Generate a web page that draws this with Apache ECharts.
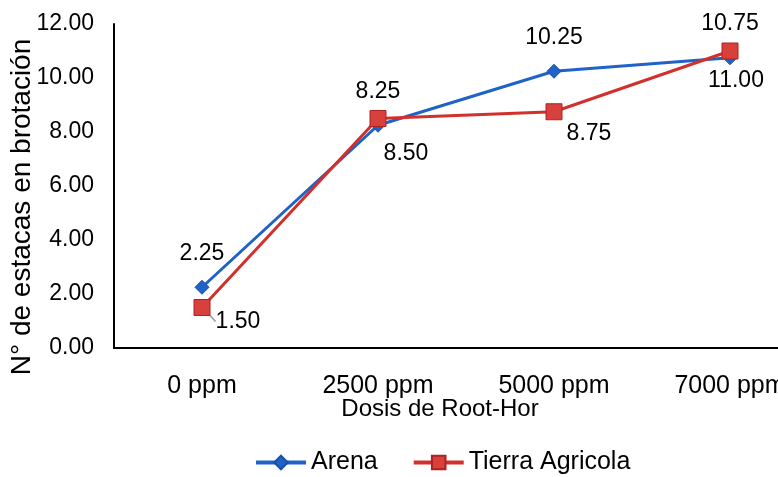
<!DOCTYPE html>
<html><head><meta charset="utf-8">
<script src="https://cdn.jsdelivr.net/npm/echarts@6/dist/echarts.min.js"></script>
<style>html,body{margin:0;padding:0;background:#fff}#c{width:778px;height:477px}</style>
</head><body><div id="c"></div>
<script>
const categories = ['0 ppm', '2500 ppm', '5000 ppm', '7000 ppm'];
const arena = [2.25, 8.25, 10.25, 10.75];
const tierra = [1.50, 8.50, 8.75, 11.00];
const yTicks = [0, 2, 4, 6, 8, 10, 12];

const FONT = 'Liberation Sans, Arial, sans-serif';
const tierraOffsets = [[36, 14], [28, 35], [35, 22], [6, 30]];

const chart = echarts.init(document.getElementById('c'), null, {renderer: 'canvas'});
chart.setOption({
  animation: false,
  backgroundColor: '#fff',
  textStyle: {fontFamily: FONT, color: '#000'},
  grid: {left: 114, top: 24, height: 324, width: 704, outerBoundsMode: 'none', containLabel: false},
  legend: {
    data: ['Arena', 'Tierra Agricola'],
    left: 249, top: 445,
    itemWidth: 50, itemHeight: 17, itemGap: 34,
    lineStyle: {width: 4},
    textStyle: {fontFamily: FONT, fontSize: 25, color: '#000'}
  },
  xAxis: {
    type: 'category', data: categories, boundaryGap: true,
    axisLine: {lineStyle: {color: '#000', width: 2}},
    axisTick: {show: false},
    axisLabel: {fontFamily: FONT, fontSize: 25, color: '#000', margin: 26, interval: 0},
    name: 'Dosis de Root-Hor', nameLocation: 'middle', nameGap: 49, nameMoveOverlap: false,
    nameTextStyle: {fontFamily: FONT, fontSize: 24, color: '#000', padding: [0, 52, 0, 0]}
  },
  yAxis: {
    type: 'value', min: yTicks[0], max: yTicks[yTicks.length - 1], interval: 2,
    axisLine: {show: true, lineStyle: {color: '#000', width: 2}},
    axisTick: {show: false},
    splitLine: {show: false},
    axisLabel: {fontFamily: FONT, fontSize: 23, color: '#000', margin: 20, formatter: v => v.toFixed(2)},
    name: 'N° de estacas en brotación', nameLocation: 'middle', nameGap: 78, nameMoveOverlap: false,
    nameTextStyle: {fontFamily: FONT, fontSize: 28, color: '#000', padding: [0, 42, 0, 0]}
  },
  series: [
    {
      name: 'Arena', type: 'line', data: arena,
      symbol: 'diamond', symbolSize: 14,
      lineStyle: {color: '#1F63C8', width: 3},
      itemStyle: {color: '#1F63C8', borderColor: '#1850A8', borderWidth: 1},
      label: {show: true, position: 'top', distance: 15, fontFamily: FONT, fontSize: 23, color: '#000',
              formatter: p => p.value.toFixed(2)}
    },
    {
      name: 'Tierra Agricola', type: 'line',
      data: tierra.map((v, i) => ({
        value: v,
        label: {offset: tierraOffsets[i]},
        labelLine: {show: i === 0, lineStyle: {color: '#999', width: 1.5}}
      })),
      symbol: 'rect', symbolSize: 16,
      lineStyle: {color: '#D2302C', width: 3},
      itemStyle: {color: '#D7403B', borderColor: '#B02020', borderWidth: 1},
      label: {show: true, position: 'inside', align: 'center', verticalAlign: 'middle',
              fontFamily: FONT, fontSize: 23, color: '#000',
              formatter: p => p.value.toFixed(2)}
    }
  ]
});
</script></body></html>
